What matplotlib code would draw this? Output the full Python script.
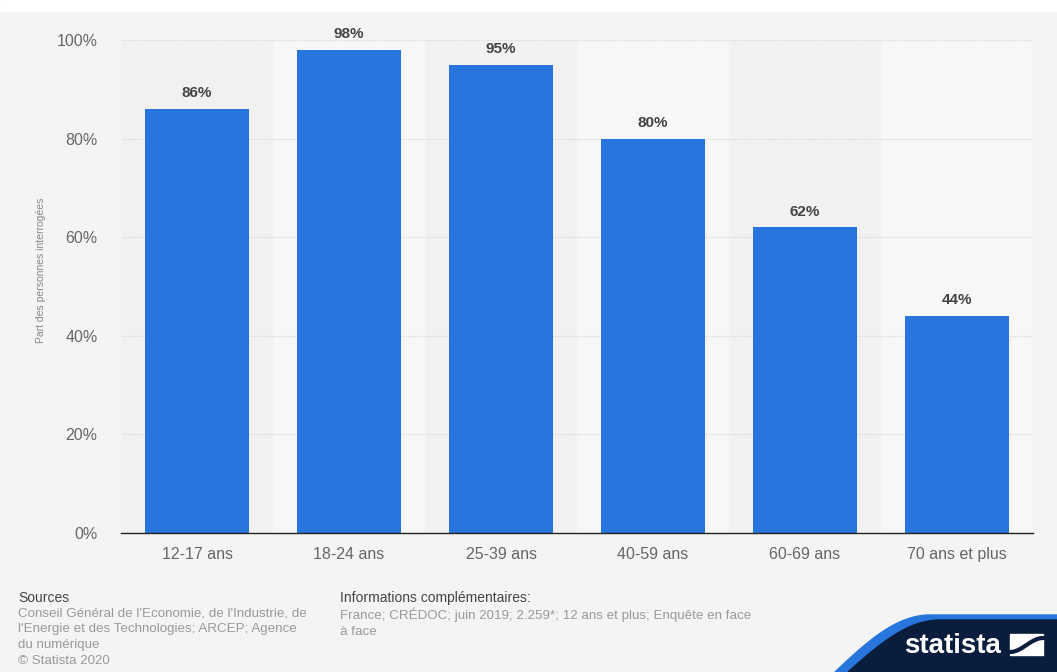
import matplotlib.pyplot as plt
from matplotlib.patches import Polygon, Rectangle
import numpy as np

categories = ["12-17 ans", "18-24 ans", "25-39 ans", "40-59 ans", "60-69 ans", "70 ans et plus"]
values = [86, 98, 95, 80, 62, 44]
yticks = [0, 20, 40, 60, 80, 100]

plt.rcParams['font.family'] = ['Liberation Sans', 'DejaVu Sans']

W, H = 1057, 672
def fp(px, py):
    # pixel position -> figure fraction
    return (px / W, 1 - py / H)

fig = plt.figure(figsize=(10.57, 6.72), dpi=100)
fig.patch.set_facecolor('#f4f4f4')
# white strip at the very top
fig.add_artist(Rectangle((0, 0.984), 1, 0.016, transform=fig.transFigure, color='white', zorder=0))

ax = fig.add_axes([0.1145, 0.2068, 0.8628, 0.7336])
ax.set_facecolor('#f4f4f4')
x = np.arange(len(categories))

# subtle alternating column bands
for i in x:
    ax.axvspan(i - 0.5, i + 0.5, color='#f1f1f1' if i % 2 == 0 else '#f7f7f7', zorder=0, lw=0)

ax.bar(x, values, width=0.684, color='#2876dd', zorder=3)
for xi, v in zip(x, values):
    ax.text(xi, v + 1.8, f"{v}%", ha='center', va='bottom', fontsize=11,
            color='#444444', fontweight='bold', zorder=4)

ax.set_xlim(-0.5, len(categories) - 0.5)
ax.set_ylim(0, 100)
ax.set_yticks(yticks)
ax.set_yticklabels([f"{t}%" for t in yticks])
ax.set_xticks(x)
ax.set_xticklabels(categories)
ax.tick_params(axis='both', length=0, labelsize=11.5, labelcolor='#666666')
ax.tick_params(axis='y', pad=17)
ax.tick_params(axis='x', pad=10)
ax.yaxis.grid(True, color='#d8d8d8', linewidth=0.8, linestyle=(0, (1, 1)), zorder=1)
for s in ['top', 'right', 'left']:
    ax.spines[s].set_visible(False)
ax.spines['bottom'].set_color('#222222')
ax.spines['bottom'].set_linewidth(1)
ax.spines['bottom'].set_zorder(5)
ax.set_ylabel("Part des personnes interrogées", fontsize=7.5, color='#888888')
ax.yaxis.set_label_coords(-0.082, 0.533)

# footer
fig.text(18 / W, 1 - 598 / H, "Sources", fontsize=10, color='#444444', va='center')
fig.text(18 / W, 1 - 607 / H,
         "Conseil Général de l'Economie, de l'Industrie, de\n"
         "l'Energie et des Technologies; ARCEP; Agence\n"
         "du numérique\n"
         "© Statista 2020",
         fontsize=9.6, color='#999999', va='top', linespacing=1.45)
fig.text(340 / W, 1 - 598 / H, "Informations complémentaires:", fontsize=10, color='#444444', va='center')
fig.text(340 / W, 1 - 607 / H,
         "France; CRÉDOC; juin 2019; 2.259*; 12 ans et plus; Enquête en face\n"
         "à face",
         fontsize=9.6, color='#999999', va='top', linespacing=1.45)

# statista logo band
t = np.linspace(0, 1, 40)
curve = [fp(835 + 95 * tt, 672 - 57 * np.sin(tt * np.pi / 2)) for tt in t]
blue = curve + [fp(1057, 615), fp(1057, 672)]
fig.add_artist(Polygon(blue, closed=True, transform=fig.transFigure, color='#2876dd', zorder=1))
curve2 = [fp(848 + 92 * tt, 672 - 52 * np.sin(tt * np.pi / 2)) for tt in t]
navy = curve2 + [fp(1057, 620), fp(1057, 672)]
fig.add_artist(Polygon(navy, closed=True, transform=fig.transFigure, color='#0b1d3d', zorder=2))
fig.text(904 / W, 1 - 646 / H, "statista", fontsize=20, fontweight='bold', color='white',
         va='center', ha='left', zorder=3)
fig.add_artist(Rectangle(fp(1010, 655), 33 / W, 21 / H, transform=fig.transFigure,
                         color='white', zorder=3))
wave_t = np.linspace(0, 1, 20)
wave = [fp(1010 + 33 * tt, 652 - 14 * (0.5 - 0.5 * np.cos(tt * np.pi))) for tt in wave_t]
fig.add_artist(plt.Line2D([p[0] for p in wave], [p[1] for p in wave], transform=fig.transFigure,
                          color='#0b1d3d', lw=3, zorder=4))

fig.savefig("out.png", dpi=100, facecolor=fig.get_facecolor())
